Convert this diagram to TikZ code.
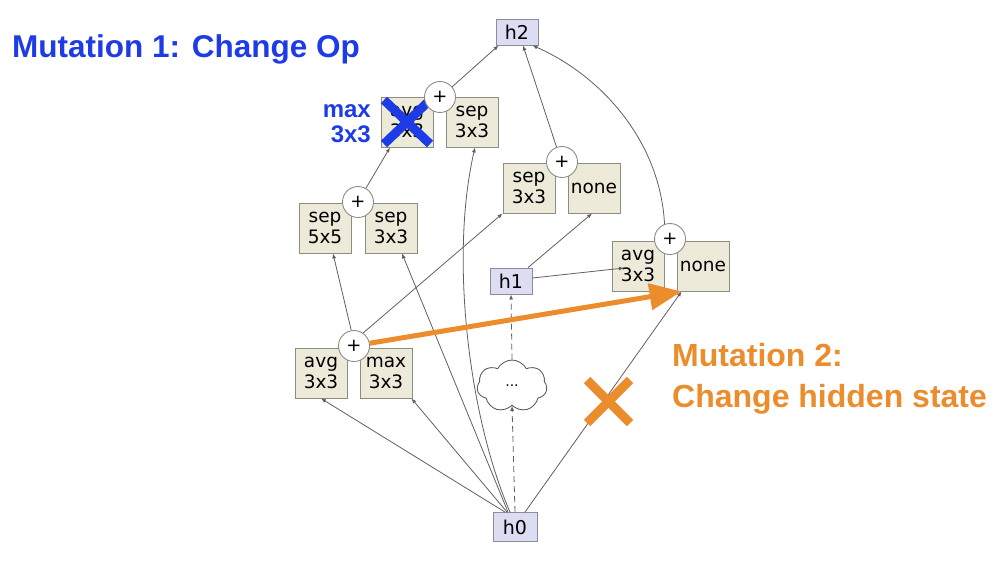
\documentclass[tikz,border=0pt]{standalone}
\usepackage{fontspec}
\setmainfont{Liberation Sans}
\newfontfamily\dejavu{DejaVu Sans}
\usetikzlibrary{arrows.meta,shapes.symbols,calc}
\definecolor{opfill}{RGB}{238,234,218}
\definecolor{opline}{RGB}{140,140,128}
\definecolor{hfill}{RGB}{220,220,242}
\definecolor{hline}{RGB}{140,140,156}
\definecolor{edgecol}{RGB}{95,95,95}
\definecolor{bluec}{RGB}{30,60,230}
\definecolor{orangec}{RGB}{235,140,45}
\begin{document}
\begin{tikzpicture}[x=1pt,y=-1pt,
  opbox/.style={draw=opline, fill=opfill, minimum width=52pt, minimum height=50pt, inner sep=0pt, align=center, font=\dejavu\fontsize{18.5}{21.5}\selectfont, line width=0.9pt},
  hbox/.style={draw=hline, fill=hfill, minimum width=42pt, minimum height=26pt, inner sep=0pt, font=\dejavu\fontsize{19}{21}\selectfont, line width=0.9pt},
  plusnode/.style={circle, draw=opline, fill=white, minimum size=31pt, inner sep=0pt, font=\dejavu\fontsize{18}{18}\selectfont, line width=0.9pt},
  edge/.style={draw=edgecol, line width=0.8pt, -{Latex[length=5pt,width=4pt]}},
  dashededge/.style={edge, dashed, dash pattern=on 6pt off 4pt},
  bigx/.style={line width=9pt},
]
\useasboundingbox (0,0) rectangle (1000,560);

% hidden states
\node[hbox] (h2) at (517,32) {h2};
\node[hbox] (h1) at (511,281) {h1};
\node[hbox, minimum width=44pt, minimum height=29pt] (h0) at (515,527) {h0};

% ops
\node[opbox] (opA) at (407,122) {avg\\3x3};
\node[opbox] (opB) at (472,122) {sep\\3x3};
\node[opbox] (opC) at (529,188) {sep\\3x3};
\node[opbox] (opD) at (594,188) {none};
\node[opbox] (opE) at (325,228) {sep\\5x5};
\node[opbox] (opF) at (391,228) {sep\\3x3};
\node[opbox] (opG) at (638,266) {avg\\3x3};
\node[opbox] (opH) at (703,266) {none};
\node[opbox] (opI) at (321,373) {avg\\3x3};
\node[opbox] (opJ) at (386,373) {max\\3x3};

% cloud
\node[cloud, cloud puffs=7, cloud puff arc=125, draw=edgecol, fill=white, line width=0.9pt, minimum width=70pt, minimum height=52pt, aspect=1.4, inner sep=0pt, font=\dejavu\fontsize{14}{14}\selectfont] (cl) at (512,386) {...};

% blue cross over the changed op
\draw[bluec, bigx] ($(opA.center)+(-23,-22)$) -- ($(opA.center)+(23,22)$);
\draw[bluec, bigx] ($(opA.center)+(-23,22)$) -- ($(opA.center)+(23,-22)$);

% adders
\node[plusnode] (pT) at (440,97) {+};
\node[plusnode] (pM) at (562,162) {+};
\node[plusnode] (pL) at (358,202) {+};
\node[plusnode] (pR) at (670,239) {+};
\node[plusnode] (pB) at (354,346) {+};

% edges from h0
\draw[edge] ([xshift=-10pt]h0.north) -- (opI.south);
\draw[edge] ([xshift=-8pt]h0.north) -- ([xshift=-1pt]opJ.south east);
\draw[edge] ([xshift=-7pt]h0.north) -- ([xshift=11pt]opF.south);
\draw[edge] ([xshift=-5pt]h0.north) .. controls (470,420) and (449,260) .. ([xshift=3pt]opB.south);
\draw[dashededge] (h0.north) -- (cl.south);
\draw[dashededge] (cl.north) -- (h1.south);
\draw[edge] ([xshift=10pt]h0.north) -- ([xshift=5pt]opH.south west);

% edges from adders
\draw[edge] (pB.100) -- ([xshift=8pt]opE.south);
\draw[edge] (pB.55) -- (opC.south west);
\draw[edge] (pL.60) -- ([xshift=-17pt]opA.south);
\draw[edge] (pT.40) -- ([xshift=3pt]h2.south west);
\draw[edge] (pM.110) -- ([xshift=6pt]h2.south);
\draw[edge] (pR.110) .. controls (660,140) and (600,75) .. ([xshift=-6pt]h2.south east);

% edges from h1
\draw[edge] ([xshift=17pt]h1.north) -- ([xshift=-2pt]opD.south);
\draw[edge] ([yshift=3pt]h1.east) -- ([xshift=-14pt,yshift=-2pt]opG.center);

% mutation 2 arrow and cross
\draw[orangec, line width=5pt, -{Triangle[length=32pt,width=26pt]}] (pB.10) -- ([xshift=5pt]opH.south west);
\draw[orangec, line width=9pt] (587,380) -- (630,423);
\draw[orangec, line width=9pt] (587,423) -- (630,380);

% labels
\node[anchor=base west, inner sep=0pt, text=bluec, font=\bfseries\fontsize{31.5}{31.5}\selectfont] (m1) at (12,57) {Mutation 1: Change Op};
\node[anchor=north east, inner sep=0pt, align=right, text=bluec, font=\bfseries\fontsize{24}{25}\selectfont] (mx) at (371,104) {max\\3x3};
\node[anchor=north west, inner sep=0pt, align=left, text=orangec, font=\bfseries\fontsize{32}{41}\selectfont] (m2) at (672,343) {Mutation 2:\\Change hidden state};
\end{tikzpicture}
\end{document}
